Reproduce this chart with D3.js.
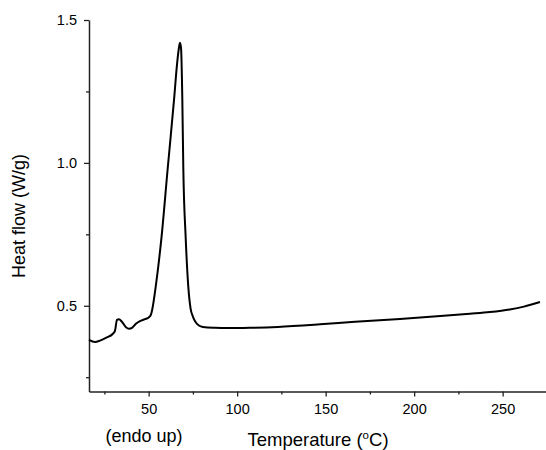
<!DOCTYPE html>
<html>
<head>
<meta charset="utf-8">
<script src="https://cdn.jsdelivr.net/npm/d3@7/dist/d3.min.js"></script>
<style>
  html, body { margin: 0; padding: 0; background: #fff; }
  svg { display: block; }
  text { font-family: "Liberation Sans", Arial, Helvetica, sans-serif; fill: #000; }
</style>
</head>
<body>
<svg id="chart" width="546" height="450"></svg>
<script>
// Temperature (°C)
const temperature = [16.3, 19.7, 22.5, 25.9, 29.8, 31.0, 32.1, 33.2, 34.9, 37.2, 38.9, 40.6, 42.8, 45.1, 47.9, 50.2, 51.3, 52.0, 54.0, 57.3, 60.7, 64.5, 66.0, 67.1, 67.7, 68.3, 69.0, 69.6, 70.9, 72.4, 73.7, 75.0, 76.5, 78.4, 80.7, 87.5, 94.8, 107.2, 123.0, 146.8, 166.6, 192.0, 212.9, 231.5, 242.8, 254.0, 262.0, 271.1];
// Heat flow (W/g)
const heatFlow = [0.381, 0.373, 0.378, 0.388, 0.402, 0.413, 0.451, 0.453, 0.444, 0.425, 0.420, 0.423, 0.437, 0.446, 0.453, 0.460, 0.469, 0.486, 0.567, 0.742, 0.976, 1.232, 1.343, 1.402, 1.420, 1.402, 1.232, 0.976, 0.742, 0.567, 0.490, 0.462, 0.443, 0.431, 0.426, 0.423, 0.422, 0.423, 0.426, 0.435, 0.444, 0.454, 0.463, 0.472, 0.478, 0.487, 0.497, 0.513];

const xMajorTicks = [50, 100, 150, 200, 250];
const xMinorTicks = [25, 75, 125, 175, 225];
const yMajorTicks = [0.5, 1.0, 1.5];
const yMinorTicks = [0.25, 0.75, 1.25];
const xDomain = [16.3, 274.5];
const yDomain = [0.2, 1.5];

const svg = d3.select("#chart");
const plotLeft = 89, plotRight = 546, plotTop = 20, plotBottom = 391.5;

const x = d3.scaleLinear().domain(xDomain).range([plotLeft, plotRight]);
const y = d3.scaleLinear().domain(yDomain).range([plotBottom, plotTop]);

const axisColor = "#222";

// X axis
const gx = svg.append("g").attr("transform", `translate(0,${plotBottom})`);
gx.call(d3.axisBottom(x).tickValues(xMajorTicks).tickSize(5).tickPadding(7).tickFormat(d3.format("d")).tickSizeOuter(0));
gx.append("g").call(d3.axisBottom(x).tickValues(xMinorTicks).tickSize(3).tickFormat("").tickSizeOuter(0))
  .select(".domain").remove();
gx.selectAll(".domain").attr("stroke", axisColor).attr("stroke-width", 1.5);
gx.selectAll(".tick line").attr("stroke", axisColor).attr("stroke-width", 1.3);
gx.selectAll(".tick text").attr("font-size", 14.5).attr("font-family", "Liberation Sans, Arial, sans-serif").attr("fill", "#000");

// Y axis
const gy = svg.append("g").attr("transform", `translate(${plotLeft},0)`);
gy.call(d3.axisLeft(y).tickValues(yMajorTicks).tickSize(5).tickPadding(7).tickFormat(d3.format(".1f")).tickSizeOuter(0));
gy.append("g").call(d3.axisLeft(y).tickValues(yMinorTicks).tickSize(3).tickFormat("").tickSizeOuter(0))
  .select(".domain").remove();
gy.selectAll(".domain").attr("stroke", axisColor).attr("stroke-width", 1.5);
gy.selectAll(".tick line").attr("stroke", axisColor).attr("stroke-width", 1.3);
gy.selectAll(".tick text").attr("font-size", 14.5).attr("font-family", "Liberation Sans, Arial, sans-serif").attr("fill", "#000");

// Curve
const data = temperature.map((t, i) => ({ t, v: heatFlow[i] }));
svg.append("path")
  .datum(data)
  .attr("fill", "none")
  .attr("stroke", "#000")
  .attr("stroke-width", 2)
  .attr("stroke-linejoin", "round")
  .attr("d", d3.line().x(d => x(d.t)).y(d => y(d.v)).curve(d3.curveMonotoneX));

// Axis titles
svg.append("text")
  .attr("transform", "translate(25,216) rotate(-90)")
  .attr("text-anchor", "middle")
  .attr("font-size", 18)
  .text("Heat flow (W/g)");

const xt = svg.append("text")
  .attr("x", 318).attr("y", 446)
  .attr("text-anchor", "middle")
  .attr("font-size", 18.5);
xt.append("tspan").text("Temperature (");
xt.append("tspan").attr("font-size", 11.5).attr("dy", -7).text("o");
xt.append("tspan").attr("dy", 7).text("C)");

svg.append("text")
  .attr("x", 144).attr("y", 442)
  .attr("text-anchor", "middle")
  .attr("font-size", 18)
  .text("(endo up)");
</script>
</body>
</html>
